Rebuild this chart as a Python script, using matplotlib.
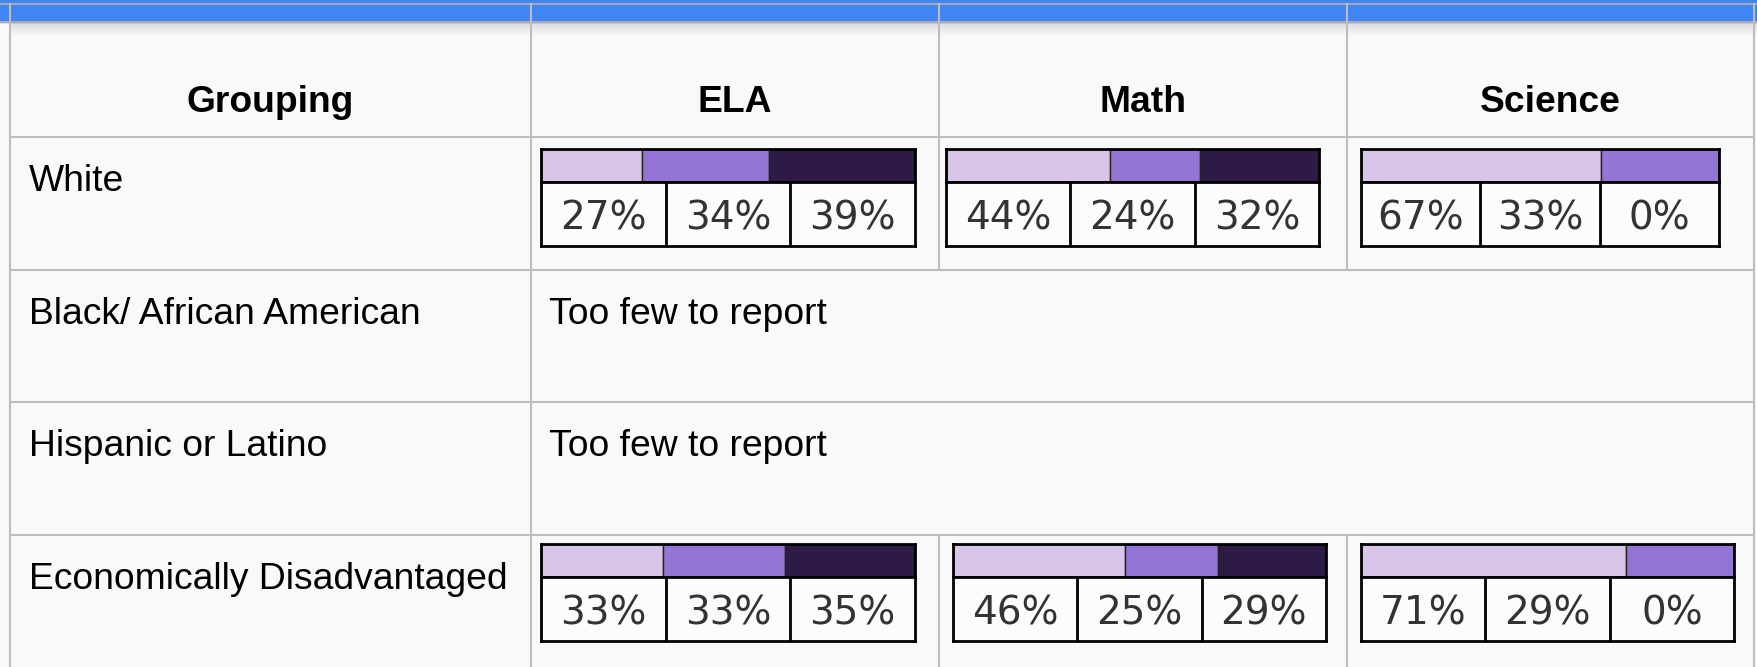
import numpy as np
import matplotlib
matplotlib.use('Agg')
import matplotlib.pyplot as plt

# ---- data ----
subjects = ['ELA', 'Math', 'Science']
groups = ['White', 'Black/ African American', 'Hispanic or Latino',
          'Economically Disadvantaged']
too_few_text = 'Too few to report'

# performance-level shares per subject (None = too few to report)
ela = [[27, 34, 39], None, None, [33, 33, 35]]
math_ = [[44, 24, 32], None, None, [46, 25, 29]]
science = [[67, 33, 0], None, None, [71, 29, 0]]
shares = {'ELA': ela, 'Math': math_, 'Science': science}

level_colors = ['#d8c5e8', '#9475d5', '#2e1a47']

# ---- layout (pixels) ----
W, H = 1758, 667
DPI = 100
col_x = [10, 531, 939, 1347, 1754]
row_y = [22, 137, 270, 402, 535, H]
# bar box left / width per (subject, row)
box_x = {('ELA', 0): (541, 374), ('ELA', 3): (541, 374),
         ('Math', 0): (946, 373), ('Math', 3): (953, 373),
         ('Science', 0): (1361, 358), ('Science', 3): (1361, 373)}
box_top = {0: 149, 3: 544}
strip_h = 33
label_h = 64

grid_c = '#bdbdbd'
bg = '#f9f9f9'
blue = '#4285f4'

fig = plt.figure(figsize=(W / DPI, H / DPI), dpi=DPI, facecolor=bg)
ax = fig.add_axes([0, 0, 1, 1])
ax.set_xlim(0, W)
ax.set_ylim(H, 0)
ax.axis('off')
ax.set_facecolor(bg)

# blue header band + shadow
ax.fill_between([0, W], 0, 22, color=blue, zorder=1)
grad = np.linspace(0, 1, 50).reshape(-1, 1)
ax.imshow(grad, cmap=matplotlib.colors.LinearSegmentedColormap.from_list(
    'sh', ['#d9d9d9', bg]), extent=[col_x[0], W, 36, 22], aspect='auto', zorder=0)
ax.plot([0, W], [4, 4], color='#a9a9b9', lw=1.5, zorder=2)
ax.plot([0, W], [22, 22], color='#a9a9b9', lw=1.5, zorder=2)

# grid lines
for y in row_y[1:-1]:
    ax.plot([col_x[0], col_x[-1]], [y, y], color=grid_c, lw=1.5, zorder=2)
ax.plot([col_x[0]] * 2, [4, H], color=grid_c, lw=1.5, zorder=2)
ax.plot([col_x[-1]] * 2, [4, H], color=grid_c, lw=1.5, zorder=2)
ax.plot([col_x[1]] * 2, [4, H], color=grid_c, lw=1.5, zorder=2)
for cx in col_x[2:4]:
    ax.plot([cx, cx], [4, row_y[2]], color=grid_c, lw=1.5, zorder=2)
    ax.plot([cx, cx], [row_y[4], H], color=grid_c, lw=1.5, zorder=2)

body_font = dict(family='Liberation Sans', size=26.8, color='black')

# header row
ax.text((col_x[0] + col_x[1]) / 2, 102.5, 'Grouping', ha='center', va='center',
        fontweight='bold', **body_font)
for i, s in enumerate(subjects):
    ax.text((col_x[i + 1] + col_x[i + 2]) / 2, 102.5, s, ha='center', va='center',
            fontweight='bold', **body_font)

# body rows
for r, g in enumerate(groups):
    top = row_y[r + 1]
    ax.text(col_x[0] + 19, top + 54, g, ha='left', va='baseline', **body_font)
    if shares['ELA'][r] is None:
        ax.text(col_x[1] + 18, top + 54, too_few_text, ha='left',
                va='baseline', **body_font)
        continue
    for s in subjects:
        vals = shares[s][r]
        x0, w = box_x[(s, r)]
        y0 = box_top[r]
        # colored strip
        sax = fig.add_axes([x0 / W, 1 - (y0 + strip_h) / H, w / W, strip_h / H])
        left = 0
        for v, c in zip(vals, level_colors):
            if v > 0:
                sax.barh(0, v, left=left, height=1, color=c,
                         edgecolor='#222222', lw=1)
            left += v
        sax.set_xlim(0, sum(vals))
        sax.set_ylim(-0.5, 0.5)
        sax.set_xticks([])
        sax.set_yticks([])
        for sp in sax.spines.values():
            sp.set_linewidth(2)
            sp.set_color('black')
        # label cells
        lax = fig.add_axes([x0 / W, 1 - (y0 + strip_h + label_h) / H,
                            w / W, label_h / H])
        lax.set_facecolor('#fcfcfc')
        lax.set_xlim(0, 3)
        lax.set_ylim(0, 1)
        lax.set_xticks([])
        lax.set_yticks([])
        for k in (1, 2):
            lax.axvline(k, color='black', lw=2)
        for sp in lax.spines.values():
            sp.set_linewidth(2)
            sp.set_color('black')
        for k, v in enumerate(vals):
            lax.text(k + 0.5, 0.43, f'{v}%', ha='center', va='center',
                     family='DejaVu Sans', size=28, color='#333333')

fig.savefig('out.png', dpi=DPI, facecolor=bg)
